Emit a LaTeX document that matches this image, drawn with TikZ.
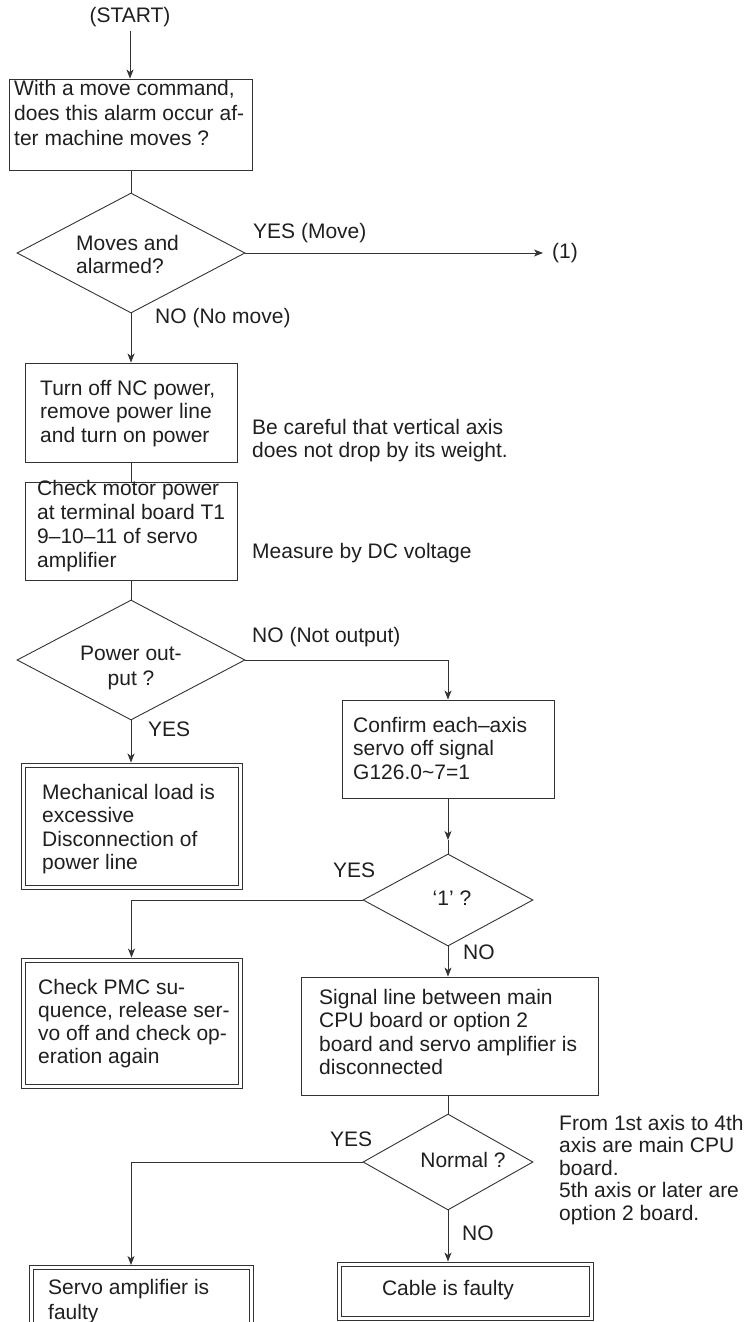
\documentclass[tikz,border=0pt]{standalone}
\usepackage{fontspec}
\setmainfont{Liberation Sans}
\usetikzlibrary{arrows.meta,shapes.geometric}
\begin{document}
\begin{tikzpicture}[x=1pt,y=-1pt,
  line/.style={draw=black!80, line width=0.9pt},
  arr/.style={line, -{Stealth[length=9pt,width=7pt,inset=2.5pt]}},
  box/.style={draw=black!80, line width=0.9pt, rectangle, inner sep=0pt},
  dia/.style={draw=black!80, line width=0.9pt, diamond, inner sep=0pt, minimum width=228pt, minimum height=120pt},
  sdia/.style={draw=black!80, line width=0.9pt, diamond, inner sep=0pt, minimum width=170pt, minimum height=92pt},
  txt/.style={inner sep=0pt, anchor=north west, align=left, text=black!88, font=\fontsize{21}{23.5}\selectfont},
  lab/.style={inner sep=0pt, text=black!88, font=\fontsize{21}{24}\selectfont},
  inner/.style={draw=black!80, line width=0.9pt},
]
\useasboundingbox (0,0) rectangle (751,1322);

% start
\node[lab] (start) at (130,17) {(START)};
\node[box, minimum width=243pt, minimum height=91pt] (b1) at (130.5,124.5) {};
\node[txt, font=\fontsize{21}{25}\selectfont] (t1) at (14,80) {With a move command,\\does this alarm occur af-\\ter machine moves ?};
\draw[arr] ([yshift=-4pt]start.south) -- (start.south |- b1.north);

% diamond 1
\node[dia] (d1) at (131,253) {};
\node[txt] (td1) at (76,235) {Moves and\\alarmed?};
\draw[line] (b1.south -| d1.north) -- (d1.north);
\node[lab, anchor=west] (l1) at (253,233) {YES (Move)};
\node[lab, anchor=west] (one) at (552,253) {(1)};
\draw[arr, shorten >=9pt] (d1.east) -- (d1.east -| one.west);
\node[lab, anchor=west] (l2) at (155,318) {NO (No move)};

% box 2, 3
\node[box, minimum width=212pt, minimum height=99pt] (b2) at (131,412.5) {};
\node[txt] (t2) at (40,380) {Turn off NC power,\\remove power line\\and turn on power};
\draw[arr] (d1.south) -- (b2.north);
\node[txt, font=\fontsize{21}{23}\selectfont] (n1) at (252,419) {Be careful that vertical axis\\does not drop by its weight.};
\node[box, minimum width=212pt, minimum height=98pt] (b3) at (131,531) {};
\node[txt, font=\fontsize{21}{24}\selectfont] (t3) at (37,480) {Check motor power\\at terminal board T1\\9–10–11 of servo\\amplifier};
\draw[line] (b2.south) -- (b3.north);
\node[lab, anchor=west] (n2) at (252,553) {Measure by DC voltage};

% diamond 2
\node[dia] (d2) at (131,660) {};
\draw[line] (b3.south) -- (d2.north);
\node[txt, anchor=north, align=center, font=\fontsize{21}{25}\selectfont] (td2) at (131,646) {Power out-\\put ?};
\node[lab, anchor=west] (l3) at (252,637) {NO (Not output)};
\node[lab, anchor=west] (l4) at (148,729) {YES};

% box 4
\node[box, minimum width=212pt, minimum height=98pt] (b4) at (448,749) {};
\node[txt] (t4) at (353,717) {Confirm each–axis\\servo off signal\\G126.0\textasciitilde7=1};
\draw[arr] (d2.east) -| (b4.north);

% box 5 (double)
\node[box, minimum width=221pt, minimum height=126pt] (b5) at (131.5,826) {};
\draw[inner] ([shift={(4.5pt,-4.5pt)}]b5.north west) rectangle ([shift={(-4.5pt,4.5pt)}]b5.south east);
\node[txt, font=\fontsize{21}{23.3}\selectfont] (t5) at (42,784) {Mechanical load is\\excessive\\Disconnection of\\power line};
\draw[arr] (d2.south) -- (d2.south |- b5.north);

% diamond 3
\node[sdia] (d3) at (448,900) {};
\coordinate (m1) at (448,840);
\draw[arr] (b4.south) -- (m1);
\draw[line] (m1) -- (d3.north);
\node[lab] (td3) at (452,898) {`1' ?};
\node[lab, anchor=west] (l5) at (333,870) {YES};
\node[lab, anchor=west] (l6) at (463,952) {NO};

% box 6 (double)
\node[box, minimum width=221pt, minimum height=130pt] (b6) at (131.5,1023) {};
\draw[inner] ([shift={(4.5pt,-4.5pt)}]b6.north west) rectangle ([shift={(-4.5pt,4.5pt)}]b6.south east);
\node[txt, font=\fontsize{21}{23}\selectfont] (t6) at (38,979) {Check PMC su-\\quence, release ser-\\vo off and check op-\\eration again};
\draw[arr] (d3.west) -| (b6.north);

% box 7
\node[box, minimum width=297pt, minimum height=118pt] (b7) at (449.5,1036) {};
\node[txt, font=\fontsize{21}{23.3}\selectfont] (t7) at (319,989) {Signal line between main\\CPU board or option 2\\board and servo amplifier is\\disconnected};
\draw[arr] (d3.south) -- (d3.south |- b7.north);

% diamond 4
\node[sdia, minimum height=96pt] (d4) at (448,1162) {};
\draw[line] (b7.south -| d4.north) -- (d4.north);
\node[lab] (td4) at (463,1160) {Normal ?};
\node[lab, anchor=west] (l7) at (330,1139) {YES};
\node[lab, anchor=west] (l8) at (462,1233) {NO};
\node[txt, font=\fontsize{21}{22.5}\selectfont] (n3) at (559,1115) {From 1st axis to 4th\\axis are main CPU\\board.\\5th axis or later are\\option 2 board.};

% box 8, 9 (double)
\node[box, minimum width=224pt, minimum height=80pt] (b8) at (141,1305) {};
\draw[inner] ([shift={(4.5pt,-4.5pt)}]b8.north west) rectangle ([shift={(-4.5pt,4.5pt)}]b8.south east);
\coordinate (b8in) at (131,1265);
\node[txt, font=\fontsize{21}{25}\selectfont] (t8) at (48,1279) {Servo amplifier is\\faulty};
\draw[arr] (d4.west) -| (b8in);
\node[box, minimum width=256pt, minimum height=58pt] (b9) at (465,1291) {};
\draw[inner] ([shift={(4.5pt,-4.5pt)}]b9.north west) rectangle ([shift={(-4.5pt,4.5pt)}]b9.south east);
\node[lab] (t9) at (448,1290) {Cable is faulty};
\draw[arr] (d4.south) -- (d4.south |- b9.north);
\end{tikzpicture}
\end{document}
